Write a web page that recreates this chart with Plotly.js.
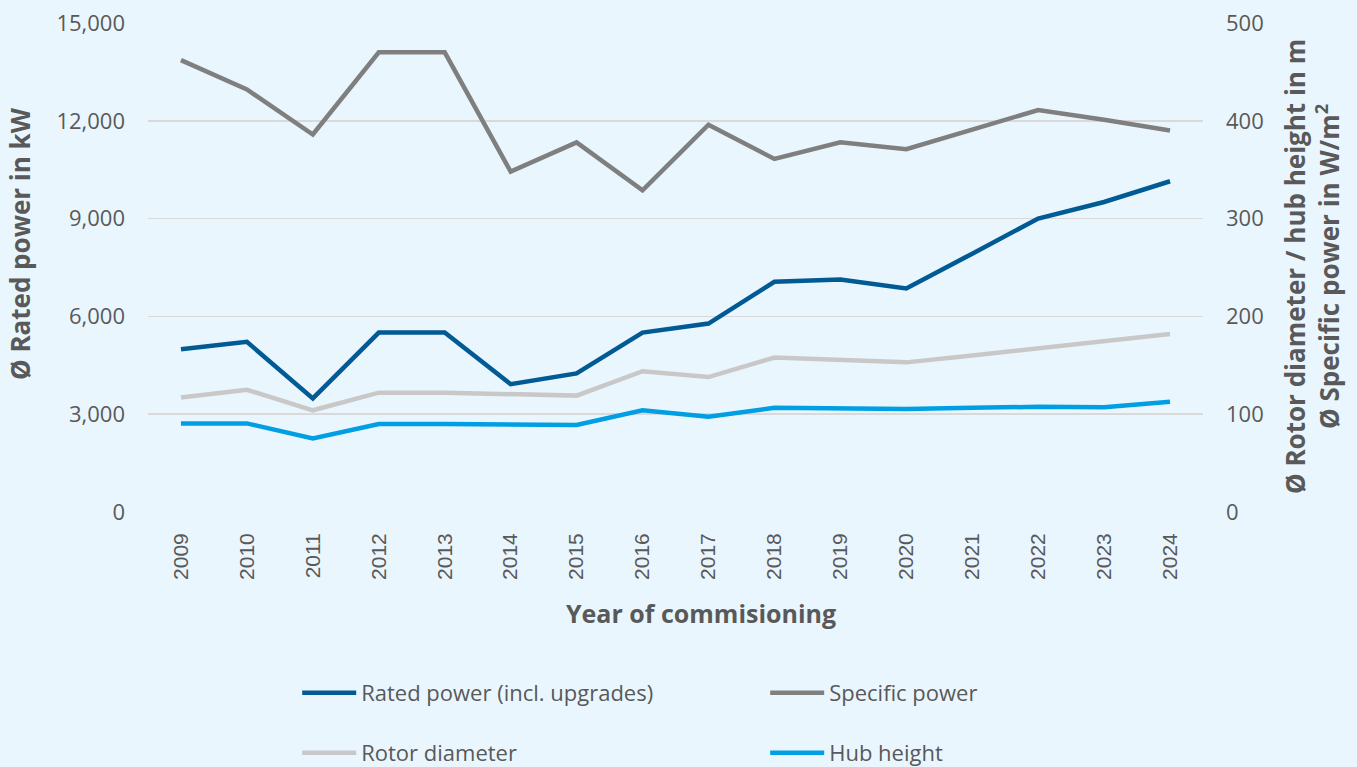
<!DOCTYPE html>
<html>
<head>
<meta charset="utf-8">
<script src="https://cdn.plot.ly/plotly-3.0.1.min.js"></script>
<style>
html,body{margin:0;padding:0;background:#EAF6FE;}
#chart{width:1357px;height:767px;}
</style>
</head>
<body>
<div id="chart"></div>
<script>
const years = ['2009','2010','2011','2012','2013','2014','2015','2016','2017','2018','2019','2020','2021','2022','2023','2024'];
const ratedPower = [4995, 5220, 3485, 5505, 5505, 3920, 4250, 5505, 5780, 7060, 7130, 6855, 7925, 9000, 9510, 10145];
const specificPower = [462, 432, 386, 470, 470, 348, 378, 329, 396, 361, 378, 371, 391, 411, 401, 390];
const rotorDiameter = [117, 125, 104, 122, 122, 120, 119, 144, 138, 158, 155, 153, 160, 167, 174, 182];
const hubHeight = [90.6, 90.6, 75.3, 90, 90, 89.6, 89, 104, 97.4, 106.5, 106, 105.2, 106.5, 107.6, 107, 112.7];

const leftTicks = [0, 3000, 6000, 9000, 12000, 15000];
const rightTicks = [0, 100, 200, 300, 400, 500];

const txt = '#595959';
const grid = '#D9D9D9';
const sans = 'Open Sans, Noto Sans, sans-serif';

const traces = [
  {x: years, y: ratedPower, name: 'Rated power (incl. upgrades)', type: 'scatter', mode: 'lines',
   line: {color: '#005A94', width: 4.5}, yaxis: 'y', legend: 'legend'},
  {x: years, y: specificPower, name: 'Specific power', type: 'scatter', mode: 'lines',
   line: {color: '#7F7F7F', width: 4.5}, yaxis: 'y2', legend: 'legend'},
  {x: years, y: rotorDiameter, name: 'Rotor diameter', type: 'scatter', mode: 'lines',
   line: {color: '#C8C8C8', width: 4.5}, yaxis: 'y2', legend: 'legend2'},
  {x: years, y: hubHeight, name: 'Hub height', type: 'scatter', mode: 'lines',
   line: {color: '#009FE3', width: 4.5}, yaxis: 'y2', legend: 'legend2'}
];

const legendCommon = {
  orientation: 'h', xanchor: 'left', yanchor: 'middle',
  xref: 'container', yref: 'container',
  font: {family: sans, size: 22, color: txt},
  bgcolor: 'rgba(0,0,0,0)', itemwidth: 54,
  entrywidth: 399, entrywidthmode: 'pixels',
  itemclick: false, itemdoubleclick: false
};

const layout = {
  width: 1357, height: 767,
  margin: {l: 148, r: 154, t: 23, b: 255},
  paper_bgcolor: '#EAF6FE', plot_bgcolor: '#EAF6FE',
  showlegend: true,
  xaxis: {
    type: 'category', range: [-0.5, 15.5], showgrid: false, zeroline: false,
    showline: false, ticks: '', tickangle: -90,
    tickfont: {family: 'Liberation Sans, Arial, sans-serif', size: 21, color: txt},
    ticklabelstandoff: 16
  },
  yaxis: {
    range: [0, 15000], tickvals: leftTicks, tickformat: ',d',
    showgrid: true, gridcolor: grid, gridwidth: 1.5, zeroline: false, showline: false,
    ticks: '', tickfont: {family: sans, size: 22, color: txt}, ticklabelstandoff: 22
  },
  yaxis2: {
    range: [0, 500], tickvals: rightTicks, overlaying: 'y', side: 'right',
    showgrid: false, zeroline: false, showline: false,
    ticks: '', tickfont: {family: sans, size: 22, color: txt}, ticklabelstandoff: 22
  },
  legend: Object.assign({}, legendCommon, {x: 0.219, y: 0.0965}),
  legend2: Object.assign({}, legendCommon, {x: 0.219, y: 0.0183}),
  annotations: [
    {text: 'Year of commisioning', xref: 'paper', yref: 'paper', x: 0.524, y: -0.2065,
     xanchor: 'center', yanchor: 'middle', showarrow: false,
     font: {family: sans, size: 25, color: txt, weight: 'bold'}},
    {text: 'Ø Rated power in kW', xref: 'paper', yref: 'paper', x: -0.1213, y: 0.548,
     xanchor: 'center', yanchor: 'middle', showarrow: false, textangle: -90,
     font: {family: sans, size: 26, color: txt, weight: 'bold'}},
    {text: 'Ø Rotor diameter / hub height in m<br>Ø Specific power in W/m<sup>2</sup>',
     xref: 'paper', yref: 'paper', x: 1.1033, y: 0.503,
     xanchor: 'center', yanchor: 'middle', showarrow: false, textangle: -90,
     font: {family: sans, size: 26, color: txt, weight: 'bold'}}
  ]
};

Plotly.newPlot('chart', traces, layout, {displayModeBar: false, staticPlot: true});
</script>
</body>
</html>
